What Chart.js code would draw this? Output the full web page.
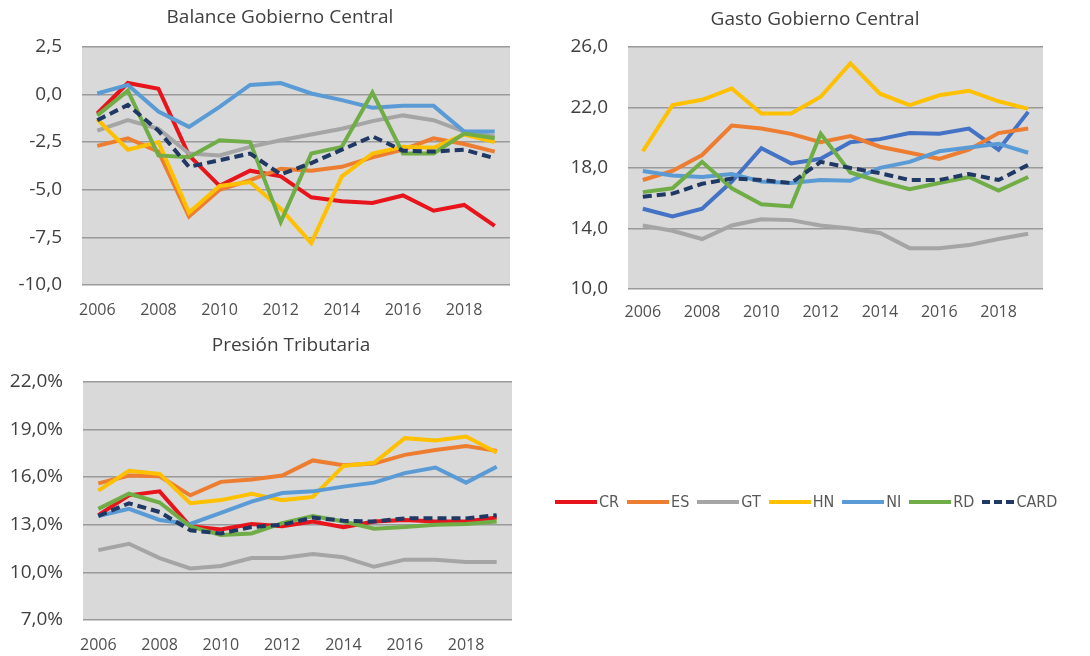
<!DOCTYPE html>
<html>
<head>
<meta charset="utf-8">
<script src="https://cdn.jsdelivr.net/npm/chart.js@4.4.0/dist/chart.umd.min.js"></script>
<style>
body { margin: 0; background: #fff; width: 1090px; height: 656px; position: relative; overflow: hidden; font-family: "Open Sans", sans-serif; }
canvas { position: absolute; }
#legend { position: absolute; left: 555px; top: 492px; display: flex; align-items: center; font-family: "Liberation Sans Narrow", "DejaVu Sans Condensed", "Open Sans", sans-serif; font-size: 16px; color: #595959; }
#legend .item { display: flex; align-items: center; margin-right: 8px; }
#legend .swatch { display: inline-block; width: 42px; height: 0; border-top: 4px solid; margin-right: 2px; }
</style>
</head>
<body>
<canvas id="balance" width="560" height="320" style="left:0;top:0"></canvas>
<canvas id="gasto" width="530" height="330" style="left:560px;top:0"></canvas>
<canvas id="presion" width="582" height="336" style="left:0;top:320px"></canvas>
<div id="legend"></div>
<script>
// years and series
const years = [2006, 2007, 2008, 2009, 2010, 2011, 2012, 2013, 2014, 2015, 2016, 2017, 2018, 2019];
const countries = ['CR', 'ES', 'GT', 'HN', 'NI', 'RD', 'CARD'];
const colors = ['#e8141c', '#ed7d31', '#a5a5a5', '#ffc000', '#5b9bd5', '#70ad47', '#203864'];
const gastoColors = ['#4472c4', '#ed7d31', '#a5a5a5', '#ffc000', '#5b9bd5', '#70ad47', '#203864'];

// Balance Gobierno Central
const balanceCR = [-1.0, 0.6, 0.3, -3.2, -4.8, -4.0, -4.3, -5.4, -5.6, -5.7, -5.3, -6.1, -5.8, -6.9];
const balanceES = [-2.7, -2.3, -3.0, -6.4, -5.0, -4.5, -3.9, -4.0, -3.8, -3.3, -2.9, -2.3, -2.6, -3.0];
const balanceGT = [-1.9, -1.35, -1.8, -3.1, -3.2, -2.75, -2.4, -2.1, -1.8, -1.4, -1.1, -1.35, -1.95, -2.2];
const balanceHN = [-1.3, -2.9, -2.5, -6.2, -4.8, -4.6, -6.0, -7.8, -4.3, -3.1, -2.75, -2.8, -2.1, -2.5];
const balanceNI = [0.05, 0.5, -0.9, -1.7, -0.65, 0.5, 0.6, 0.05, -0.3, -0.7, -0.6, -0.6, -1.95, -1.95];
const balanceRD = [-1.1, 0.2, -3.2, -3.3, -2.4, -2.5, -6.7, -3.1, -2.75, 0.1, -3.1, -3.1, -2.05, -2.3];
const balanceCARD = [-1.35, -0.55, -1.9, -3.8, -3.45, -3.1, -4.2, -3.6, -2.9, -2.2, -2.95, -3.0, -2.9, -3.35];

// Gasto Gobierno Central
const gastoCR = [15.3, 14.8, 15.3, 17.1, 19.3, 18.3, 18.6, 19.7, 19.9, 20.3, 20.25, 20.6, 19.2, 21.7];
const gastoES = [17.2, 17.8, 18.85, 20.8, 20.6, 20.25, 19.7, 20.1, 19.4, 19.0, 18.6, 19.2, 20.3, 20.6];
const gastoGT = [14.2, 13.85, 13.3, 14.2, 14.6, 14.55, 14.2, 14.0, 13.7, 12.7, 12.7, 12.9, 13.3, 13.65];
const gastoHN = [19.1, 22.15, 22.5, 23.25, 21.6, 21.6, 22.7, 24.9, 22.9, 22.15, 22.8, 23.1, 22.4, 21.9];
const gastoNI = [17.8, 17.5, 17.4, 17.6, 17.1, 17.0, 17.2, 17.15, 18.0, 18.4, 19.1, 19.35, 19.6, 19.0];
const gastoRD = [16.4, 16.65, 18.4, 16.65, 15.6, 15.45, 20.25, 17.7, 17.1, 16.6, 17.0, 17.4, 16.5, 17.4];
const gastoCARD = [16.1, 16.3, 16.95, 17.3, 17.2, 17.0, 18.4, 18.0, 17.65, 17.2, 17.2, 17.6, 17.2, 18.2];

// Presion Tributaria (%)
const presionCR = [13.6, 14.85, 15.1, 12.9, 12.7, 13.05, 12.9, 13.2, 12.85, 13.2, 13.3, 13.2, 13.2, 13.45];
const presionES = [15.6, 16.1, 16.05, 14.85, 15.7, 15.85, 16.1, 17.05, 16.75, 16.85, 17.4, 17.7, 17.95, 17.65];
const presionGT = [11.4, 11.8, 10.9, 10.25, 10.4, 10.9, 10.9, 11.15, 10.95, 10.35, 10.8, 10.8, 10.65, 10.65];
const presionHN = [15.15, 16.4, 16.2, 14.35, 14.55, 14.95, 14.55, 14.75, 16.7, 16.9, 18.45, 18.3, 18.55, 17.55];
const presionNI = [13.55, 14.0, 13.3, 13.05, 13.75, 14.45, 15.0, 15.1, 15.4, 15.65, 16.25, 16.6, 15.65, 16.65];
const presionRD = [14.0, 14.95, 14.4, 12.9, 12.35, 12.45, 13.1, 13.55, 13.2, 12.75, 12.85, 13.0, 13.05, 13.2];
const presionCARD = [13.55, 14.35, 13.8, 12.65, 12.45, 12.85, 13.0, 13.45, 13.25, 13.2, 13.4, 13.4, 13.4, 13.6];

const plotBg = {
    id: 'plotBg',
    beforeDraw(chart) {
        const a = chart.chartArea;
        const ctx = chart.ctx;
        ctx.save();
        ctx.fillStyle = '#d9d9d9';
        ctx.fillRect(a.left, a.top, a.width, a.height);
        ctx.restore();
    }
};

function buildDatasets(series, palette) {
    return series.map(function (values, i) {
        return {
            label: countries[i],
            data: values,
            borderColor: palette[i],
            backgroundColor: palette[i],
            borderWidth: 4,
            borderDash: countries[i] === 'CARD' ? [9, 5] : [],
            pointRadius: 0,
            tension: 0,
            order: series.length - i
        };
    });
}

function makeChart(id, title, series, palette, y, box) {
    return new Chart(document.getElementById(id), {
        type: 'line',
        data: { labels: years, datasets: buildDatasets(series, palette) },
        plugins: [plotBg],
        options: {
            responsive: false,
            animation: false,
            layout: { padding: { right: box.right } },
            plugins: {
                legend: { display: false },
                tooltip: { enabled: false },
                title: {
                    display: true,
                    text: title,
                    color: '#404040',
                    font: { family: 'Open Sans', size: 19, weight: 'normal' },
                    padding: { top: box.titleTop, bottom: box.titleBottom }
                }
            },
            scales: {
                x: {
                    offset: true,
                    grid: { display: false, drawTicks: false },
                    border: { display: false },
                    afterFit: function (s) { s.height = box.xHeight; },
                    ticks: {
                        autoSkip: false,
                        maxRotation: 0,
                        padding: box.xPad,
                        color: '#505050',
                        font: { family: 'Open Sans', size: 16 },
                        callback: function (v, i) { return i % 2 === 0 ? this.getLabelForValue(v) : ''; }
                    }
                },
                y: {
                    min: y.min,
                    max: y.max,
                    grid: { color: '#9a9a9a', lineWidth: 1.5, drawTicks: false },
                    border: { display: false },
                    afterFit: function (s) { s.width = box.yWidth; },
                    ticks: {
                        stepSize: y.step,
                        padding: 20,
                        color: '#404040',
                        font: { family: 'Open Sans', size: 19 },
                        callback: function (v) { return v.toFixed(1).replace('.', ',') + y.suffix; }
                    }
                },
                // empty right-hand strip so the title centres like the original
                yRight: {
                    type: 'linear',
                    position: 'right',
                    grid: { display: false },
                    border: { display: false },
                    ticks: { display: false },
                    afterFit: function (s) { s.width = box.gap; }
                }
            }
        }
    });
}

makeChart('balance', 'Balance Gobierno Central',
    [balanceCR, balanceES, balanceGT, balanceHN, balanceNI, balanceRD, balanceCARD], colors,
    { min: -10, max: 2.5, step: 2.5, suffix: '' },
    { right: 0, gap: 50, yWidth: 82, xHeight: 35, xPad: 16, titleTop: 6, titleBottom: 18 });

makeChart('gasto', 'Gasto Gobierno Central',
    [gastoCR, gastoES, gastoGT, gastoHN, gastoNI, gastoRD, gastoCARD], gastoColors,
    { min: 10, max: 26, step: 4, suffix: '' },
    { right: 20, gap: 27, yWidth: 68, xHeight: 41, xPad: 14, titleTop: 8, titleBottom: 16 });

makeChart('presion', 'Presión Tributaria',
    [presionCR, presionES, presionGT, presionHN, presionNI, presionRD, presionCARD], colors,
    { min: 7, max: 22, step: 3, suffix: '%' },
    { right: 0, gap: 70, yWidth: 83, xHeight: 36, xPad: 16, titleTop: 14, titleBottom: 25 });

// legend
const legend = document.getElementById('legend');
countries.forEach(function (name, i) {
    const item = document.createElement('span');
    item.className = 'item';
    const swatch = document.createElement('span');
    swatch.className = 'swatch';
    swatch.style.borderTopColor = colors[i];
    if (name === 'CARD') { swatch.style.borderTopStyle = 'dashed'; swatch.style.width = '32px'; }
    item.appendChild(swatch);
    item.appendChild(document.createTextNode(name));
    legend.appendChild(item);
});
</script>
</body>
</html>
